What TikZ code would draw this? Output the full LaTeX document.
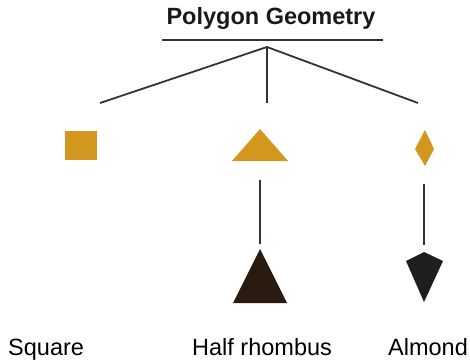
\documentclass[tikz,border=0pt]{standalone}
\usepackage{fontspec}
\setmainfont{Liberation Sans}
\definecolor{gold}{HTML}{D3961F}
\definecolor{darkbrown}{HTML}{2A1A10}
\definecolor{almondblk}{HTML}{1E1E1E}
\definecolor{linec}{HTML}{333333}
\begin{document}
\begin{tikzpicture}[x=1pt,y=-1pt,
  conn/.style={draw=linec,line width=1.8pt},
  lbl/.style={anchor=base west,inner sep=0pt,font=\fontsize{23.5}{26}\selectfont,text=black}]
\useasboundingbox (0,0) rectangle (470,361);
% title
\node[anchor=base,inner sep=0pt,font=\fontsize{23.5}{26}\selectfont\bfseries,text=black!90] (title) at (271,25) {Polygon Geometry};
\coordinate (ul) at (162,40);
\coordinate (ur) at (383,40);
\draw[draw=linec,line width=2pt] (ul) -- (ur);
% junction and branch ends
\coordinate (j) at (267,47);
\coordinate (bl) at (100,103);
\coordinate (bm) at (267,103);
\coordinate (br) at (418,103);
\draw[conn] (bl) -- (j) -- (br);
\draw[conn] (j) -- (bm);
% golden shapes
\fill[gold] (65,131) rectangle (97,160);
\fill[gold] (260,129) -- (288,161) -- (232,161) -- cycle;
\fill[gold] (425,130) -- (434,149) -- (425,166) -- (415,149) -- cycle;
% vertical connectors
\coordinate (m1) at (260,180);
\coordinate (m2) at (260,244);
\coordinate (a1) at (424,184);
\coordinate (a2) at (424,245);
\draw[conn] (m1) -- (m2);
\draw[conn] (a1) -- (a2);
% dark shapes
\fill[darkbrown] (260,249) -- (287,303) -- (233,303) -- cycle;
\fill[almondblk] (424,252) -- (443,261) -- (424,302) -- (406,261) -- cycle;
% labels
\node[lbl] (sq) at (8,355) {Square};
\node[lbl] (hr) at (192,355) {Half rhombus};
\node[lbl] (al) at (388,355) {Almond};
\end{tikzpicture}
\end{document}
